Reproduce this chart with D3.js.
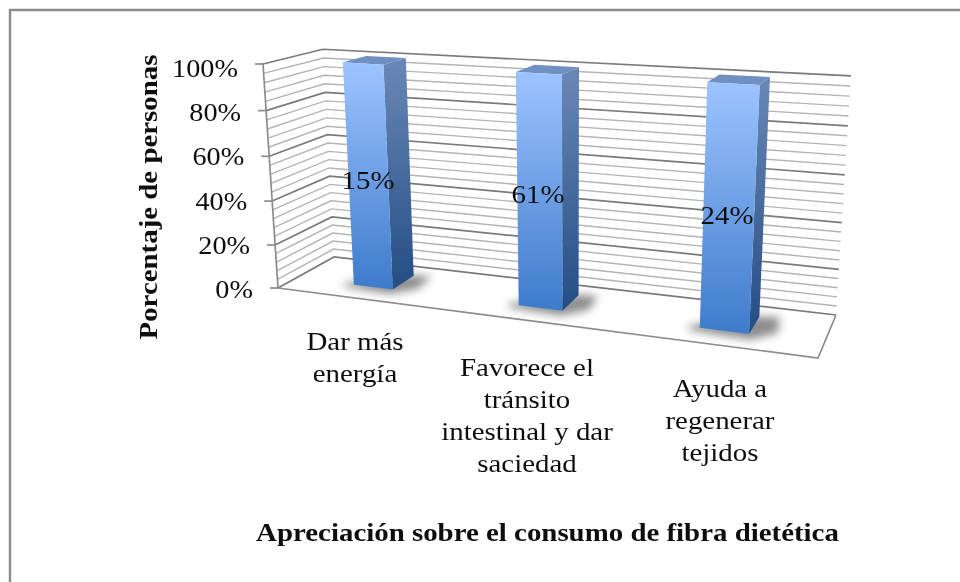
<!DOCTYPE html>
<html><head><meta charset="utf-8">
<script src="https://cdn.jsdelivr.net/npm/d3@7"></script>
<style>html,body{margin:0;padding:0;background:#fff;}svg{display:block;}text{font-family:"Liberation Serif",serif;fill:#111;}</style>
</head><body><svg id="c" width="960" height="582"></svg>
<script>
const categories=[["Dar más","energía"],["Favorece el","tránsito","intestinal y dar","saciedad"],["Ayuda a","regenerar","tejidos"]];
const labels=["15%","61%","24%"];
const barValues=[100,100,100];
const majorTicks=[0,20,40,60,80,100];
const minorTicks=d3.range(0,101,4);
const yTitle="Porcentaje de personas";
const xTitle="Apreciación sobre el consumo de fibra dietética";
// floor corners on screen: front-left, front-right, back-right, back-left
const floorQuad=[[278,288],[818,358],[836,315],[334,257]];
const topFL=[263,64],topBR=[851,76],topSag=6;
function homog(q){
  const [[x0,y0],[x1,y1],[x2,y2],[x3,y3]]=q;
  const dx1=x1-x2,dx2=x3-x2,dy1=y1-y2,dy2=y3-y2,sx=x0-x1+x2-x3,sy=y0-y1+y2-y3;
  const den=dx1*dy2-dx2*dy1;
  const g=(sx*dy2-dx2*sy)/den,h=(dx1*sy-sx*dy1)/den;
  const a=x1-x0+g*x1,b=x3-x0+h*x3,c=x0,d=y1-y0+g*y1,e=y3-y0+h*y3,f=y0;
  return (u,v)=>({x:a*u+b*v+c,y:d*u+e*v+f,w:g*u+h*v+1});
}
const hF=homog(floorQuad);
const wBR=hF(1,1).w;
const fl=floorQuad[0],br=floorQuad[2];
const k=((fl[0]-topFL[0])+(topBR[0]-br[0])*wBR)*-1/(topBR[0]-topFL[0]);
const Cx=topFL[0]*(1+k)-fl[0],Cy=topFL[1]*(1+k)-fl[1];
const xS=d3.scaleLinear().domain([0,categories.length]).range([0,1]);
const yS=d3.scaleLinear().domain([0,100]).range([0,1]);
function P(c,depth,val){
  const u=xS(c),n=hF(u,depth),t=yS(val),w=n.w+t*k;
  return[(n.x+t*Cx)/w,(n.y+t*Cy)/w+topSag*t*u];
}
const svg=d3.select("#c");
const defs=svg.append("defs");
function grad(id,c1,c2){const g=defs.append("linearGradient").attr("id",id).attr("x1",0).attr("y1",0).attr("x2",0).attr("y2",1);
 g.append("stop").attr("offset",0).attr("stop-color",c1);g.append("stop").attr("offset",1).attr("stop-color",c2);}
grad("front","#9dc4ff","#3e7bcb");grad("side","#6a88b6","#234d84");
defs.append("filter").attr("id","bl").attr("x","-40%").attr("y","-100%").attr("width","180%").attr("height","300%").append("feGaussianBlur").attr("stdDeviation",4);
defs.append("filter").attr("id","soft").attr("x","-5%").attr("y","-5%").attr("width","110%").attr("height","110%").append("feGaussianBlur").attr("stdDeviation",0.5);
// frame: top and left edges only
svg.append("path").attr("d","M10,582V10H960").attr("fill","none").attr("stroke","#8c8c8c").attr("stroke-width",2.4);
const line=d3.line();
const g=svg.append("g").attr("filter","url(#soft)");
minorTicks.forEach(v=>{const major=v%20===0;
  g.append("path").attr("d",line([P(0,0,v),P(0,1,v),P(3,1,v)])).attr("fill","none")
   .attr("stroke",major?"#7a7a7a":"#b4b4b4").attr("stroke-width",major?1.7:1.4);});
g.append("path").attr("d",line([P(0,0,0),P(3,0,0),P(3,1,0)])).attr("fill","none").attr("stroke","#8c8c8c").attr("stroke-width",1.7);
g.append("path").attr("d",line([P(0,0,0),P(0,0,100)])).attr("fill","none").attr("stroke","#8c8c8c").attr("stroke-width",1.7);
majorTicks.forEach(v=>{const p=P(0,0,v);
  g.append("line").attr("x1",p[0]-8).attr("x2",p[0]).attr("y1",p[1]).attr("y2",p[1]).attr("stroke","#8c8c8c").attr("stroke-width",1.7);});
// bars
const barPos=[0.505,1.52,2.51];
const bw=0.125,d0=0.32,d1=0.74;
barValues.forEach((val,i)=>{
  const c=barPos[i],l=c-bw,r=c+bw;
  svg.append("path").attr("d",line([P(l-.04,d0-.08,0),P(r+.02,d0-.12,0),P(r+.13,d0+.1,0),P(r+.1,d1+.05,0),P(r-.02,d1,0),P(l-.06,d0+.02,0)])+"Z")
   .attr("fill","#333").attr("opacity",.55).attr("filter","url(#bl)");
  const b=svg.append("g").attr("filter","url(#soft)");
  b.append("path").attr("d",line([P(r,d0,0),P(r,d1,0),P(r,d1,val),P(r,d0,val)])+"Z").attr("fill","url(#side)");
  b.append("path").attr("d",line([P(l,d0,val),P(r,d0,val),P(r,d1,val),P(l,d1,val)])+"Z").attr("fill","#7090c2");
  b.append("path").attr("d",line([P(l,d0,0),P(r,d0,0),P(r,d0,val),P(l,d0,val)])+"Z").attr("fill","url(#front)");
});
const T=svg.append("g").attr("filter","url(#soft)");
function txt(t,attrs,stretch,size,bold){
  const e=T.append("text").attr("text-anchor","middle").attr("font-size",size).attr("font-weight",bold?"bold":null).text(t);
  Object.entries(attrs).forEach(([a,v])=>e.attr(a,v));
  const len=e.node().getComputedTextLength();
  e.attr("textLength",len*stretch).attr("lengthAdjust","spacingAndGlyphs");
  return e;
}
const lblY=[189,203,224],lblX=[368,538,727];
labels.forEach((t,i)=>txt(t,{x:lblX[i],y:lblY[i]},1.155,25));
const tickBase=d3.scaleLinear().domain([0,100]).range([298,77]);
majorTicks.forEach(v=>{const p=P(0,0,v);
  txt(v+"%",{x:p[0]-25,y:tickBase(v),"text-anchor":"end"},1.13,25);});
const catX=[355,527,720],catY=[350,376,397];
categories.forEach((ls,i)=>ls.forEach((t,j)=>txt(t,{x:catX[i],y:catY[i]+j*32},1.155,25)));
txt(yTitle,{transform:"translate(157,197) rotate(-90)"},1.155,25,true);
txt(xTitle,{x:547.5,y:541},1.155,25,true);
</script></body></html>
